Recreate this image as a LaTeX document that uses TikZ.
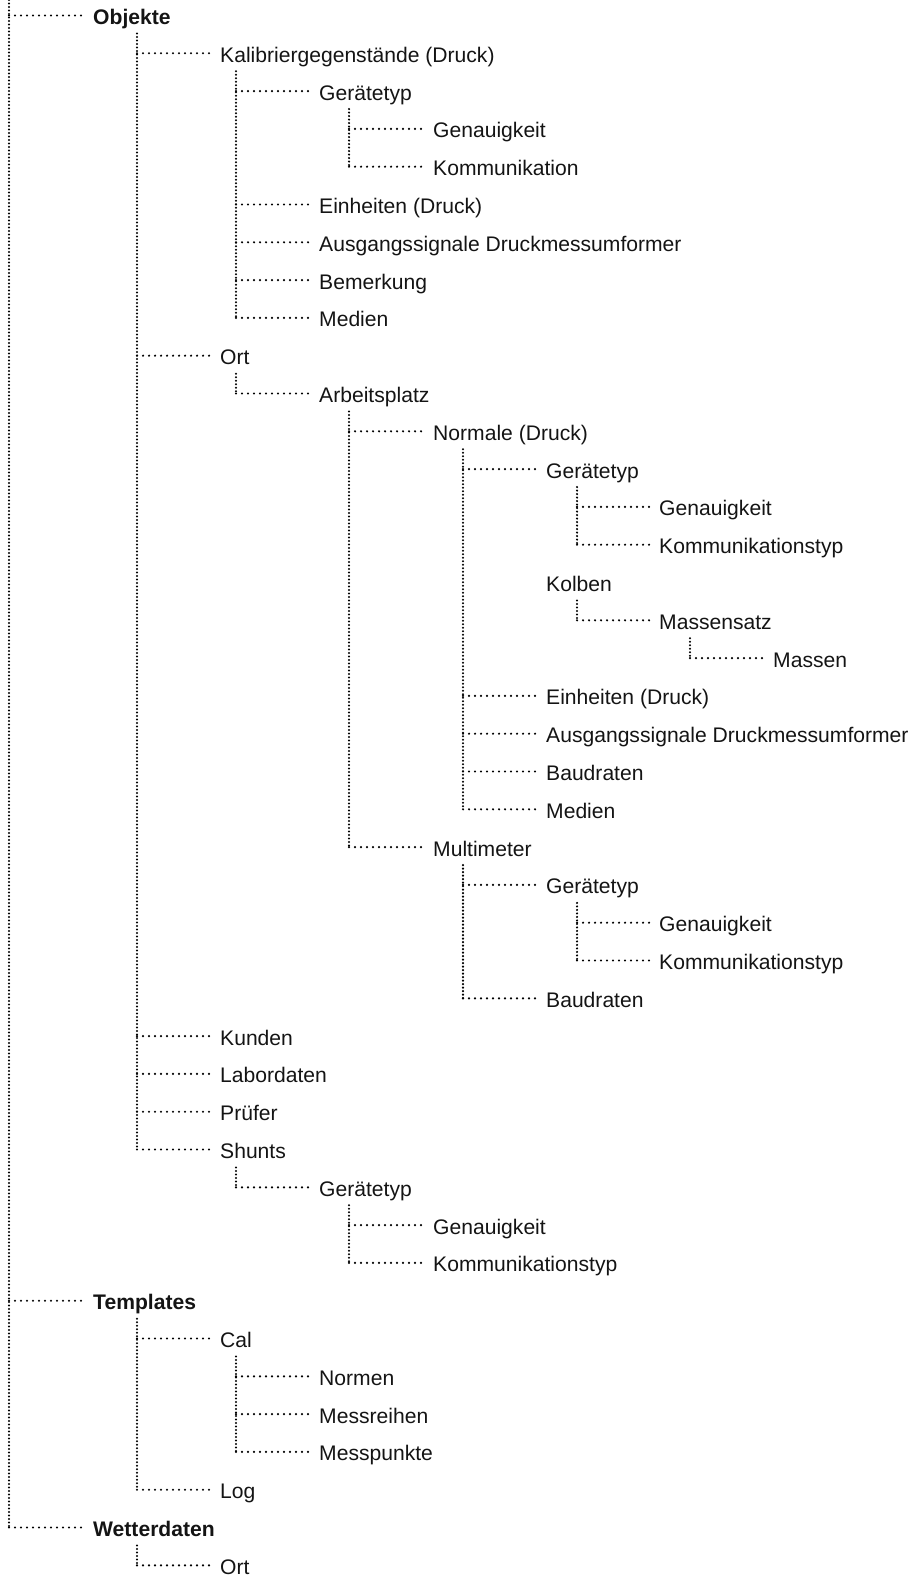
\documentclass[tikz,border=0pt]{standalone}
\usepackage{fontspec}
\setmainfont{Liberation Sans}
\usetikzlibrary{calc}

\begin{document}
\begin{tikzpicture}[
  x=1pt, y=-37.8pt,
  % Node styles
  item/.style={anchor=west, inner sep=0pt, text height=18pt, text depth=0pt,
               text=black!92, font=\fontsize{21.1}{24}\selectfont},
  head/.style={item, font=\fontsize{21.1}{24}\selectfont\bfseries},
  % Connector styles
  hline/.style={line width=2.4pt, line cap=round, dash pattern=on 0pt off 6pt},
  vline/.style={line width=2.3pt, line cap=round, dash pattern=on 0pt off 3.5pt},
]
\useasboundingbox (0,-0.41) rectangle (911,41.336);

% === Level 0 ===
\node[head] (obj) at (93, 0)  {Objekte};
\node[head] (tpl) at (93, 34) {Templates};
\node[head] (wet) at (93, 40) {Wetterdaten};

% === Objekte ===
\node[item] (kal) at (220, 1)  {Kalibriergegenstände (Druck)};
\node[item] (ort) at (220, 9)  {Ort};
\node[item] (kun) at (220, 27) {Kunden};
\node[item] (lab) at (220, 28) {Labordaten};
\node[item] (pru) at (220, 29) {Prüfer};
\node[item] (shu) at (220, 30) {Shunts};

% Kalibriergegenstände
\node[item] (kal-gt)     at (319, 2) {Gerätetyp};
\node[item] (kal-gt-gen) at (433, 3) {Genauigkeit};
\node[item] (kal-gt-kom) at (433, 4) {Kommunikation};
\node[item] (kal-ein)    at (319, 5) {Einheiten (Druck)};
\node[item] (kal-aus)    at (319, 6) {Ausgangssignale Druckmessumformer};
\node[item] (kal-bem)    at (319, 7) {Bemerkung};
\node[item] (kal-med)    at (319, 8) {Medien};

% Ort
\node[item] (arb)         at (319, 10) {Arbeitsplatz};
\node[item] (norm)        at (433, 11) {Normale (Druck)};
\node[item] (norm-gt)     at (546, 12) {Gerätetyp};
\node[item] (norm-gt-gen) at (659, 13) {Genauigkeit};
\node[item] (norm-gt-kom) at (659, 14) {Kommunikationstyp};
\node[item] (kolb)        at (546, 15) {Kolben};
\node[item] (kolb-ms)     at (659, 16) {Massensatz};
\node[item] (kolb-ms-m)   at (773, 17) {Massen};
\node[item] (norm-ein)    at (546, 18) {Einheiten (Druck)};
\node[item] (norm-aus)    at (546, 19) {Ausgangssignale Druckmessumformer};
\node[item] (norm-bau)    at (546, 20) {Baudraten};
\node[item] (norm-med)    at (546, 21) {Medien};
\node[item] (mult)        at (433, 22) {Multimeter};
\node[item] (mult-gt)     at (546, 23) {Gerätetyp};
\node[item] (mult-gt-gen) at (659, 24) {Genauigkeit};
\node[item] (mult-gt-kom) at (659, 25) {Kommunikationstyp};
\node[item] (mult-bau)    at (546, 26) {Baudraten};

% Shunts
\node[item] (shu-gt)     at (319, 31) {Gerätetyp};
\node[item] (shu-gt-gen) at (433, 32) {Genauigkeit};
\node[item] (shu-gt-kom) at (433, 33) {Kommunikationstyp};

% === Templates ===
\node[item] (cal)     at (220, 35) {Cal};
\node[item] (cal-nor) at (319, 36) {Normen};
\node[item] (cal-mr)  at (319, 37) {Messreihen};
\node[item] (cal-mp)  at (319, 38) {Messpunkte};
\node[item] (log)     at (220, 39) {Log};

% === Wetterdaten ===
\node[item] (wet-ort) at (220, 41) {Ort};

% === Branch points ===
\coordinate (root)      at (9, -0.41);
\coordinate (obj-b)     at ([xshift=44pt,yshift=-18pt]obj.west);
\coordinate (kal-b)     at ([xshift=16pt,yshift=-18pt]kal.west);
\coordinate (kal-gt-b)  at ([xshift=30pt,yshift=-18pt]kal-gt.west);
\coordinate (ort-b)     at ([xshift=16pt,yshift=-18pt]ort.west);
\coordinate (arb-b)     at ([xshift=30pt,yshift=-18pt]arb.west);
\coordinate (norm-b)    at ([xshift=30pt,yshift=-18pt]norm.west);
\coordinate (norm-gt-b) at ([xshift=31pt,yshift=-18pt]norm-gt.west);
\coordinate (kolb-b)    at ([xshift=31pt,yshift=-18pt]kolb.west);
\coordinate (kolb-ms-b) at ([xshift=31pt,yshift=-18pt]kolb-ms.west);
\coordinate (mult-b)    at ([xshift=30pt,yshift=-18pt]mult.west);
\coordinate (mult-gt-b) at ([xshift=31pt,yshift=-18pt]mult-gt.west);
\coordinate (shu-b)     at ([xshift=16pt,yshift=-18pt]shu.west);
\coordinate (shu-gt-b)  at ([xshift=30pt,yshift=-18pt]shu-gt.west);
\coordinate (tpl-b)     at ([xshift=44pt,yshift=-18pt]tpl.west);
\coordinate (cal-b)     at ([xshift=16pt,yshift=-18pt]cal.west);
\coordinate (wet-b)     at ([xshift=44pt,yshift=-18pt]wet.west);

% === Vertical lines ===
\draw[vline] (root)      -- (root |- wet.west);
\draw[vline] (obj-b)     -- (obj-b |- shu.west);
\draw[vline] (kal-b)     -- (kal-b |- kal-med.west);
\draw[vline] (kal-gt-b)  -- (kal-gt-b |- kal-gt-kom.west);
\draw[vline] (ort-b)     -- (ort-b |- arb.west);
\draw[vline] (arb-b)     -- (arb-b |- mult.west);
\draw[vline] (norm-b)    -- (norm-b |- norm-med.west);
\draw[vline] (norm-gt-b) -- (norm-gt-b |- norm-gt-kom.west);
\draw[vline] (kolb-b)    -- (kolb-b |- kolb-ms.west);
\draw[vline] (kolb-ms-b) -- (kolb-ms-b |- kolb-ms-m.west);
\draw[vline] (mult-b)    -- (mult-b |- mult-bau.west);
\draw[vline] (mult-gt-b) -- (mult-gt-b |- mult-gt-kom.west);
\draw[vline] (shu-b)     -- (shu-b |- shu-gt.west);
\draw[vline] (shu-gt-b)  -- (shu-gt-b |- shu-gt-kom.west);
\draw[vline] (tpl-b)     -- (tpl-b |- log.west);
\draw[vline] (cal-b)     -- (cal-b |- cal-mp.west);
\draw[vline] (wet-b)     -- (wet-b |- wet-ort.west);

% === Horizontal connectors ===
% root
\draw[hline] (root |- obj.west) -- ([xshift=-10pt]obj.west);
\draw[hline] (root |- tpl.west) -- ([xshift=-10pt]tpl.west);
\draw[hline] (root |- wet.west) -- ([xshift=-10pt]wet.west);

% Objekte
\draw[hline] (obj-b |- kal.west) -- ([xshift=-10pt]kal.west);
\draw[hline] (obj-b |- ort.west) -- ([xshift=-10pt]ort.west);
\draw[hline] (obj-b |- kun.west) -- ([xshift=-10pt]kun.west);
\draw[hline] (obj-b |- lab.west) -- ([xshift=-10pt]lab.west);
\draw[hline] (obj-b |- pru.west) -- ([xshift=-10pt]pru.west);
\draw[hline] (obj-b |- shu.west) -- ([xshift=-10pt]shu.west);

% Kalibriergegenstände
\draw[hline] (kal-b |- kal-gt.west)  -- ([xshift=-10pt]kal-gt.west);
\draw[hline] (kal-b |- kal-ein.west) -- ([xshift=-10pt]kal-ein.west);
\draw[hline] (kal-b |- kal-aus.west) -- ([xshift=-10pt]kal-aus.west);
\draw[hline] (kal-b |- kal-bem.west) -- ([xshift=-10pt]kal-bem.west);
\draw[hline] (kal-b |- kal-med.west) -- ([xshift=-10pt]kal-med.west);
\draw[hline] (kal-gt-b |- kal-gt-gen.west) -- ([xshift=-10pt]kal-gt-gen.west);
\draw[hline] (kal-gt-b |- kal-gt-kom.west) -- ([xshift=-10pt]kal-gt-kom.west);

% Ort
\draw[hline] (ort-b |- arb.west)   -- ([xshift=-10pt]arb.west);
\draw[hline] (arb-b |- norm.west)  -- ([xshift=-10pt]norm.west);
\draw[hline] (arb-b |- mult.west)  -- ([xshift=-10pt]mult.west);
\draw[hline] (norm-b |- norm-gt.west)  -- ([xshift=-10pt]norm-gt.west);
\draw[hline] (norm-b |- norm-ein.west) -- ([xshift=-10pt]norm-ein.west);
\draw[hline] (norm-b |- norm-aus.west) -- ([xshift=-10pt]norm-aus.west);
\draw[hline] (norm-b |- norm-bau.west) -- ([xshift=-10pt]norm-bau.west);
\draw[hline] (norm-b |- norm-med.west) -- ([xshift=-10pt]norm-med.west);
\draw[hline] (norm-gt-b |- norm-gt-gen.west) -- ([xshift=-10pt]norm-gt-gen.west);
\draw[hline] (norm-gt-b |- norm-gt-kom.west) -- ([xshift=-10pt]norm-gt-kom.west);
\draw[hline] (kolb-b |- kolb-ms.west)      -- ([xshift=-10pt]kolb-ms.west);
\draw[hline] (kolb-ms-b |- kolb-ms-m.west) -- ([xshift=-10pt]kolb-ms-m.west);
\draw[hline] (mult-b |- mult-gt.west)  -- ([xshift=-10pt]mult-gt.west);
\draw[hline] (mult-b |- mult-bau.west) -- ([xshift=-10pt]mult-bau.west);
\draw[hline] (mult-gt-b |- mult-gt-gen.west) -- ([xshift=-10pt]mult-gt-gen.west);
\draw[hline] (mult-gt-b |- mult-gt-kom.west) -- ([xshift=-10pt]mult-gt-kom.west);

% Shunts
\draw[hline] (shu-b |- shu-gt.west) -- ([xshift=-10pt]shu-gt.west);
\draw[hline] (shu-gt-b |- shu-gt-gen.west) -- ([xshift=-10pt]shu-gt-gen.west);
\draw[hline] (shu-gt-b |- shu-gt-kom.west) -- ([xshift=-10pt]shu-gt-kom.west);

% Templates
\draw[hline] (tpl-b |- cal.west) -- ([xshift=-10pt]cal.west);
\draw[hline] (tpl-b |- log.west) -- ([xshift=-10pt]log.west);
\draw[hline] (cal-b |- cal-nor.west) -- ([xshift=-10pt]cal-nor.west);
\draw[hline] (cal-b |- cal-mr.west)  -- ([xshift=-10pt]cal-mr.west);
\draw[hline] (cal-b |- cal-mp.west)  -- ([xshift=-10pt]cal-mp.west);

% Wetterdaten
\draw[hline] (wet-b |- wet-ort.west) -- ([xshift=-10pt]wet-ort.west);

\end{tikzpicture}
\end{document}
